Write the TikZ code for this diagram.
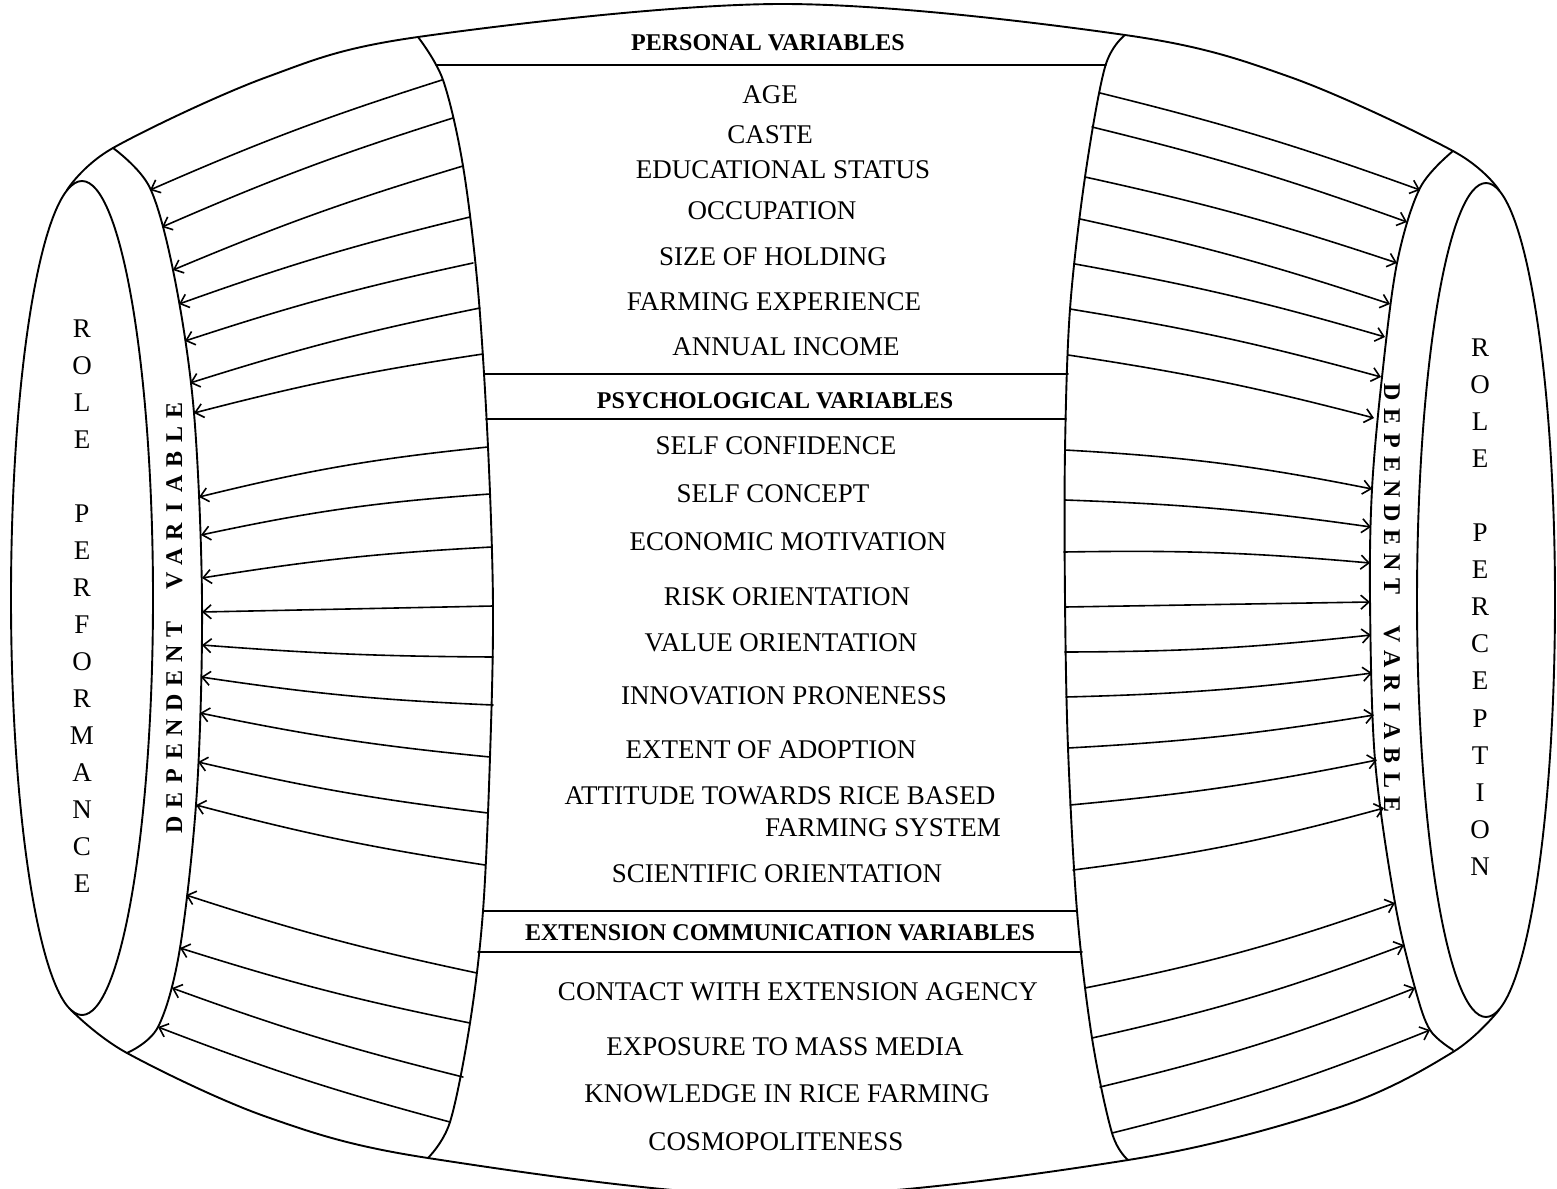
\documentclass[tikz,border=0pt]{standalone}
\usepackage{fontspec}
\setmainfont{Liberation Serif}
\usetikzlibrary{arrows.meta,shapes.geometric}
\begin{document}
\begin{tikzpicture}[x=1pt,y=-1pt,
  outline/.style={line width=1.9pt, line join=round, line cap=round},
  arr/.style={line width=1.6pt, line cap=round,
    -{Straight Barb[length=8pt,width=14pt,line width=1.6pt]}},
  item/.style={font=\fontsize{27}{30}\selectfont, inner sep=0pt,
    text height=18pt, text depth=0pt},
  head/.style={font=\fontsize{24}{28}\selectfont\bfseries, inner sep=0pt,
    text height=16pt, text depth=0pt},
  roleletter/.style={font=\fontsize{27}{30}\selectfont, inner sep=0pt,
    text height=18pt, text depth=0pt},
  dvletter/.style={font=\fontsize{24}{26}\selectfont\bfseries, inner sep=0pt,
    text height=16pt, text depth=0pt},
  rolebox/.style={draw, ellipse, inner sep=0pt, line width=1.9pt}
]
\useasboundingbox (0,0) rectangle (1557,1188);
\clip (0,0) rectangle (1557,1188);

% ---- end ellipses ----
\node[rolebox, minimum width=142pt, minimum height=834pt] (perf) at (82,598) {};
\node[rolebox, minimum width=138pt, minimum height=834pt] (perc) at (1486,600) {};

% ---- barrel outline ----
\draw[outline] plot[smooth, tension=0.55] coordinates
  {(67,190) (113,148) (267,77) (418,37) (780,4) (1125,35) (1290,77) (1453,151) (1499,190)};
\draw[outline] plot[smooth, tension=0.55] coordinates
  {(71,1010) (127,1053) (267,1117) (428,1158) (780,1196) (1128,1160) (1340,1107) (1453,1052) (1499,1010)};

% ---- bands holding the dependent variable ----
\draw[outline] plot[smooth, tension=0.55] coordinates
  {(113,148) (150,188) (175,280) (194,413) (202,600) (197,790) (180,948) (158,1027) (127,1053)};
\draw[outline] plot[smooth, tension=0.55] coordinates
  {(1453,151) (1420,188) (1397,263) (1382,377) (1372,489) (1370,600) (1375,760) (1395,903) (1415,988) (1430,1030) (1453,1050)};

% ---- central panel ----
\draw[outline] plot[smooth, tension=0.55] coordinates
  {(418,37) (443,80) (463,166) (478,290) (488,447) (493,606) (490,757) (483,911) (470,1023) (450,1122) (428,1158)};
\draw[outline] plot[smooth, tension=0.55] coordinates
  {(1125,35) (1105,67) (1085,177) (1070,309) (1065,450) (1065,600) (1068,748) (1077,911) (1092,1038) (1112,1133) (1128,1160)};

\coordinate (h1l) at (436,65);   \coordinate (h1r) at (1106,65);
\coordinate (h2l) at (484,374);  \coordinate (h2r) at (1068,374);
\coordinate (h3l) at (486,419);  \coordinate (h3r) at (1066,419);
\coordinate (h4l) at (483,911);  \coordinate (h4r) at (1077,911);
\coordinate (h5l) at (478,952);  \coordinate (h5r) at (1082,952);
\foreach \k in {1,...,5} \draw[outline] (h\k l) -- (h\k r);

% ---- variables ----
\node[head] (hpers) at (768,43) {PERSONAL VARIABLES};
\node[item] (v1) at (770,94) {AGE};
\node[item] (v2) at (770,134) {CASTE};
\node[item] (v3) at (783,169) {EDUCATIONAL STATUS};
\node[item] (v4) at (772,210) {OCCUPATION};
\node[item] (v5) at (773,256) {SIZE OF HOLDING};
\node[item] (v6) at (774,301) {FARMING EXPERIENCE};
\node[item] (v7) at (786,346) {ANNUAL INCOME};
\node[head] (hpsy) at (775,400) {PSYCHOLOGICAL VARIABLES};
\node[item] (v8) at (776,445) {SELF CONFIDENCE};
\node[item] (v9) at (773,493) {SELF CONCEPT};
\node[item] (v10) at (788,541) {ECONOMIC MOTIVATION};
\node[item] (v11) at (787,596) {RISK ORIENTATION};
\node[item] (v12) at (781,642) {VALUE ORIENTATION};
\node[item] (v13) at (784,695) {INNOVATION PRONENESS};
\node[item] (v14) at (771,749) {EXTENT OF ADOPTION};
\node[item] (v15a) at (780,795) {ATTITUDE TOWARDS RICE BASED};
\node[item] (v15b) at (883,827) {FARMING SYSTEM};
\node[item] (v16) at (777,873) {SCIENTIFIC ORIENTATION};
\node[head] (hext) at (780,932) {EXTENSION COMMUNICATION VARIABLES};
\node[item] (v17) at (798,991) {CONTACT WITH EXTENSION AGENCY};
\node[item] (v18) at (785,1046) {EXPOSURE TO MASS MEDIA};
\node[item] (v19) at (787,1093) {KNOWLEDGE IN RICE FARMING};
\node[item] (v20) at (776,1141) {COSMOPOLITENESS};

% ---- role labels, one letter per line ----
\foreach \ch/\k in {R/0,O/1,L/2,E/3,P/5,E/6,R/7,F/8,O/9,R/10,M/11,A/12,N/13,C/14,E/15}
  \node[roleletter] (rpf-\k) at (82,328+37*\k) {\ch};
\foreach \ch/\k in {R/0,O/1,L/2,E/3,P/5,E/6,R/7,C/8,E/9,P/10,T/11,I/12,O/13,N/14}
  \node[roleletter] (rpc-\k) at (1480,347+37.1*\k) {\ch};

% ---- dependent variable labels along the bands ----
\foreach \ch/\k in {D/0,E/1,P/2,E/3,N/4,D/5,E/6,N/7,T/8,V/10,A/11,R/12,I/13,A/14,B/15,L/16,E/17}
  \node[dvletter, rotate=90] (dvl-\k) at (174,825-24.4*\k) {\ch};
\foreach \ch/\k in {D/0,E/1,P/2,E/3,N/4,D/5,E/6,N/7,T/8,V/10,A/11,R/12,I/13,A/14,B/15,L/16,E/17}
  \node[dvletter, rotate=-90] (dvr-\k) at (1392,392+24.25*\k) {\ch};

% ---- links to the role performance band ----
\foreach \i/\sx/\sy/\ex/\ey/\b in {
  1/442/80/150/190/-3, 2/453/118/162/227/-3, 3/463/166/173/270/-3,
  4/470/217/179/304/-3, 5/473/263/185/341/-3, 6/480/308/190/383/-3,
  7/483/354/194/413/-3, 8/488/447/199/497/-4, 9/490/494/201/535/-4,
  10/492/547/202/578/-3, 11/493/606/202/612/0, 12/493/657/202/645/2,
  13/493/705/201/677/3, 14/490/757/200/713/3, 15/488/813/198/762/3,
  16/485/865/196/805/3, 17/477/973/186/895/3, 18/470/1023/180/948/3,
  19/463/1077/172/988/3, 20/450/1122/158/1027/3}
{
  \coordinate (ls\i) at (\sx,\sy);
  \coordinate (le\i) at (\ex,\ey);
  \draw[arr] (ls\i) to[bend left=\b] (le\i);
}

% ---- links to the role perception band ----
\foreach \i/\sx/\sy/\ex/\ey/\b in {
  1/1100/93/1420/190/3, 2/1092/127/1407/222/3, 3/1085/177/1397/263/3,
  4/1080/219/1390/304/3, 5/1075/264/1385/337/3, 6/1070/309/1381/377/3,
  7/1068/355/1374/418/3, 8/1065/450/1372/489/4, 9/1065/500/1371/527/3,
  10/1064/552/1370/563/3, 11/1065/607/1370/602/0, 12/1065/652/1371/635/-3,
  13/1066/697/1372/673/-3, 14/1068/748/1374/715/-3, 15/1070/805/1377/760/-3,
  16/1073/870/1384/808/-4, 17/1085/988/1395/903/-4, 18/1092/1038/1404/945/-4,
  19/1100/1087/1415/988/-4, 20/1112/1133/1430/1030/-4}
{
  \coordinate (rs\i) at (\sx,\sy);
  \coordinate (re\i) at (\ex,\ey);
  \draw[arr] (rs\i) to[bend left=\b] (re\i);
}
\end{tikzpicture}
\end{document}
